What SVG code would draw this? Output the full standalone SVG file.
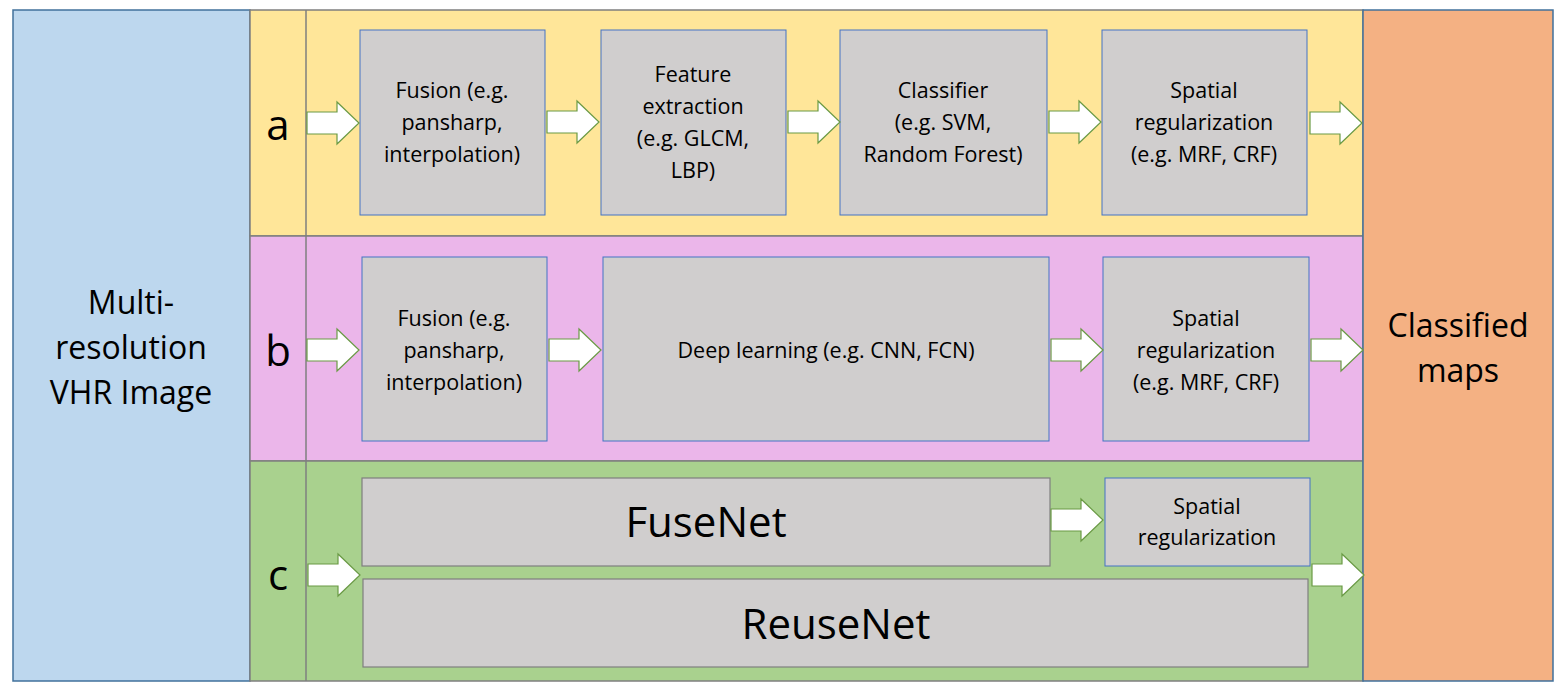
<svg xmlns="http://www.w3.org/2000/svg" width="1566" height="696" viewBox="0 0 1566 696">
<defs>
<style>
.t{font-family:"Open Sans","Liberation Sans",sans-serif;fill:#000;text-anchor:middle}
.s{font-size:21.5px}
.box{fill:#D0CECE;stroke:#4472C4;stroke-width:1}
.gbox{fill:#D0CECE;stroke:#7F7F7F;stroke-width:1.2}
.ar{fill:#fff;stroke:#6A9A45;stroke-width:1.2}
.row{stroke:#7F7F7F;stroke-width:1.5}
</style>
<path id="arr" d="M0,-11 H30 V-21 L52,0 L30,21 V11 H0 Z"/>
</defs>
<g id="input"><rect x="13" y="10" width="237" height="671" fill="#BDD7EE" stroke="#41719C" stroke-width="1.5"/>
<text class="t" font-size="32" x="131" y="314">Multi-</text>
<text class="t" font-size="32" x="131" y="359">resolution</text>
<text class="t" font-size="32" x="131" y="404">VHR Image</text></g>
<g id="rowA"><rect class="row" x="250" y="10" width="1113" height="226" fill="#FFE699"/><line class="row" x1="306" y1="10" x2="306" y2="236"/>
<text class="t" font-size="42" x="278" y="140">a</text></g>
<g id="rowB"><rect class="row" x="250" y="236" width="1113" height="225" fill="#EBB6EA"/><line class="row" x1="306" y1="236" x2="306" y2="461"/>
<text class="t" font-size="42" x="278" y="366">b</text></g>
<g id="rowC"><rect class="row" x="250" y="461" width="1113" height="220" fill="#A9D18E"/><line class="row" x1="306" y1="461" x2="306" y2="681"/>
<text class="t" font-size="42" x="278" y="590">c</text></g>
<g id="output"><rect x="1363" y="10" width="190" height="671" fill="#F4B183" stroke="#41719C" stroke-width="1.5"/>
<text class="t" font-size="32" x="1458" y="337">Classified</text>
<text class="t" font-size="32" x="1458" y="382">maps</text></g>
<g id="a1"><rect class="box" x="360" y="30" width="185" height="185"/><text class="t s" x="452" y="98">Fusion (e.g.</text><text class="t s" x="452" y="130">pansharp,</text><text class="t s" x="452" y="162">interpolation)</text></g>
<g id="a2"><rect class="box" x="601" y="30" width="185" height="185"/><text class="t s" x="693" y="82">Feature</text><text class="t s" x="693" y="114">extraction</text><text class="t s" x="693" y="146">(e.g. GLCM,</text><text class="t s" x="693" y="178">LBP)</text></g>
<g id="a3"><rect class="box" x="840" y="30" width="207" height="185"/><text class="t s" x="943" y="98">Classifier</text><text class="t s" x="943" y="130">(e.g. SVM,</text><text class="t s" x="943" y="162">Random Forest)</text></g>
<g id="a4"><rect class="box" x="1102" y="30" width="205" height="185"/><text class="t s" x="1204" y="98">Spatial</text><text class="t s" x="1204" y="130">regularization</text><text class="t s" x="1204" y="162">(e.g. MRF, CRF)</text></g>
<g id="b1"><rect class="box" x="362" y="257" width="185" height="184"/><text class="t s" x="454" y="326">Fusion (e.g.</text><text class="t s" x="454" y="358">pansharp,</text><text class="t s" x="454" y="390">interpolation)</text></g>
<g id="b2"><rect class="box" x="603" y="257" width="446" height="184"/><text class="t s" x="826" y="358">Deep learning (e.g. CNN, FCN)</text></g>
<g id="b3"><rect class="box" x="1103" y="257" width="206" height="184"/><text class="t s" x="1206" y="326">Spatial</text><text class="t s" x="1206" y="358">regularization</text><text class="t s" x="1206" y="390">(e.g. MRF, CRF)</text></g>
<g id="c1"><rect class="gbox" x="362" y="478" width="688" height="88"/><text class="t" font-size="42" x="706" y="537">FuseNet</text></g>
<g id="c2"><rect class="box" x="1105" y="478" width="205" height="88"/><text class="t s" x="1207" y="514">Spatial</text><text class="t s" x="1207" y="545">regularization</text></g>
<g id="c3"><rect class="gbox" x="363" y="579" width="945" height="88"/><text class="t" font-size="42" x="836" y="639">ReuseNet</text></g>
<g id="connectors">
<use href="#arr" class="ar" x="307" y="123"/>
<use href="#arr" class="ar" x="547" y="122"/>
<use href="#arr" class="ar" x="788" y="122"/>
<use href="#arr" class="ar" x="1049" y="122"/>
<use href="#arr" class="ar" x="1310" y="123"/>
<use href="#arr" class="ar" x="307" y="350"/>
<use href="#arr" class="ar" x="549" y="350"/>
<use href="#arr" class="ar" x="1051" y="350"/>
<use href="#arr" class="ar" x="1311" y="350"/>
<use href="#arr" class="ar" x="308" y="575"/>
<use href="#arr" class="ar" x="1051" y="520"/>
<use href="#arr" class="ar" x="1312" y="575"/>
</g>
</svg>
